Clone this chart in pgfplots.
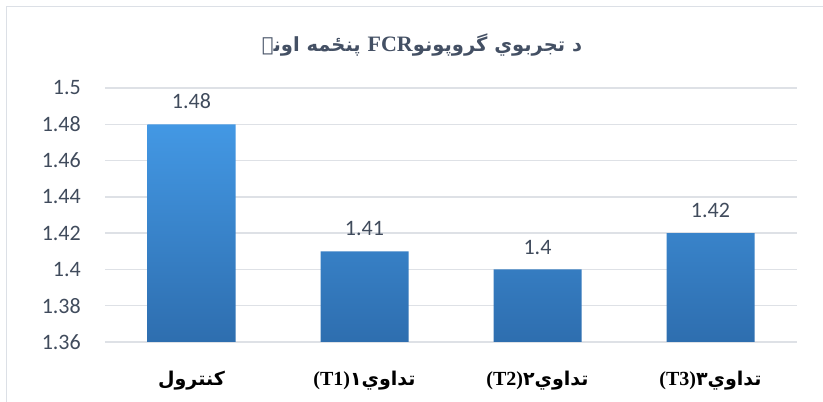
\documentclass[border=0pt]{standalone}
\usepackage{pgfplots}
\pgfplotsset{compat=1.18}
\usepackage{fontspec}
\setmainfont{Carlito}
\newfontfamily\arabicfont[Script=Arabic]{DejaVu Sans}
\newfontfamily\serif{Liberation Serif}
\TeXXeTstate=1
\definecolor{barTop}{RGB}{67,152,228}
\definecolor{barBot}{RGB}{46,110,175}
\definecolor{gridc}{RGB}{222,225,230}
\definecolor{labc}{RGB}{64,75,92}
\definecolor{titc}{RGB}{68,80,100}
\definecolor{borderc}{RGB}{220,224,230}
\begin{document}
\begin{tikzpicture}[x=1pt,y=1pt]
\useasboundingbox (0,0) rectangle (823,402);
\draw[color=borderc, line width=1.5pt] (6.5,-10) -- (6.5,395.5) -- (840,395.5);
\begin{axis}[
  at={(105pt,60pt)}, anchor=south west,
  width=692pt, height=254pt, scale only axis,
  xmin=-0.5, xmax=3.5, ymin=1.36, ymax=1.5,
  ytick={1.36,1.38,1.40,1.42,1.44,1.46,1.48,1.50},
  yticklabels={1.36,1.38,1.4,1.42,1.44,1.46,1.48,1.5},
  xtick={0,1,2,3},
  xticklabels={
    {\arabicfont\bfseries\beginR کنترول\endR},
    {{\serif\bfseries\fontsize{20}{24}\selectfont (T1)}{\arabicfont\bfseries ۱\beginR تداوي\endR}},
    {{\serif\bfseries\fontsize{20}{24}\selectfont (T2)}{\arabicfont\bfseries ۲\beginR تداوي\endR}},
    {{\serif\bfseries\fontsize{20}{24}\selectfont (T3)}{\arabicfont\bfseries ۳\beginR تداوي\endR}}},
  axis line style={draw=none},
  major tick style={draw=none},
  ymajorgrids, grid style={gridc, line width=1.5pt},
  yticklabel style={font=\fontsize{22}{26}\selectfont, text=labc, anchor=east, inner sep=0pt, xshift=-24pt},
  xticklabel style={font=\fontsize{19}{22}\selectfont, text=black, anchor=base, inner sep=0pt, yshift=-39pt},
  ybar, bar width=88pt,
  nodes near coords,
  nodes near coords style={font=\fontsize{22}{26}\selectfont, text=labc, anchor=south, inner sep=0pt, yshift=15pt},
  point meta=explicit symbolic,
  clip=false,
]
\addplot[draw=none, top color=barTop, bottom color=barBot] coordinates {
  (0,1.48) [1.48]
  (1,1.41) [1.41]
  (2,1.40) [1.4]
  (3,1.42) [1.42]
};
\end{axis}
\node[text=titc, font=\fontsize{19.5}{23}\selectfont\bfseries] at (422,357)
  {\arabicfont\beginR د تجربوي گروپونو{\serif\bfseries\fontsize{22}{26}\selectfont FCR} پنځمه اونۍ\endR};
\end{tikzpicture}
\end{document}
